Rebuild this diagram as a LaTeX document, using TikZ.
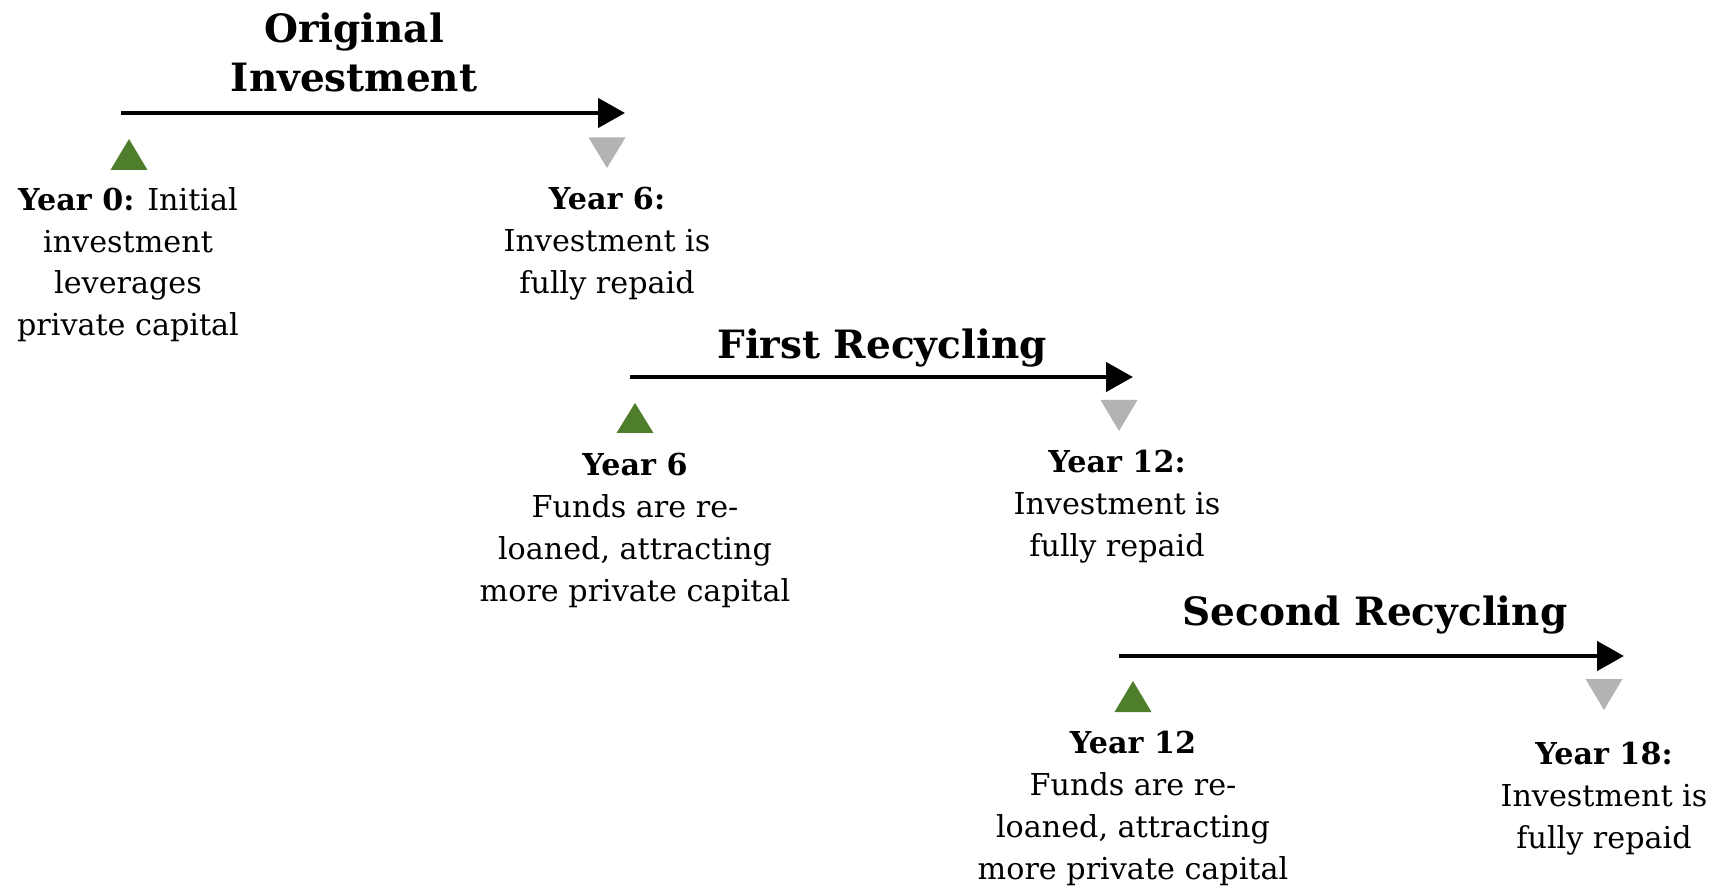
\documentclass[tikz,border=0pt]{standalone}
\usepackage{fontspec}
\setmainfont{DejaVu Serif}
\usetikzlibrary{arrows.meta}
\definecolor{upgreen}{HTML}{4E7D2B}
\definecolor{downgray}{HTML}{B3B3B3}
\tikzset{
  tline/.style={line width=2.3pt,-{Triangle[length=13.5pt,width=14.5pt]}},
  ttitle/.style={anchor=north,inner sep=0pt,align=center,font=\bfseries\fontsize{19.5}{24.75}\selectfont},
  tbody/.style={anchor=north,inner sep=0pt,align=center,font=\fontsize{15.1}{20.9}\selectfont},
  upmark/.style={fill=upgreen},
  downmark/.style={fill=downgray}
}
\begin{document}
\begin{tikzpicture}[x=0.5pt,y=-0.5pt]
\useasboundingbox (0,0) rectangle (1725,887);
% arrows
\coordinate (a1s) at (121,113); \coordinate (a1e) at (625,113);
\coordinate (a2s) at (630,377); \coordinate (a2e) at (1133,377);
\coordinate (a3s) at (1119,656); \coordinate (a3e) at (1624,656);
\draw[tline] (a1s) -- (a1e);
\draw[tline] (a2s) -- (a2e);
\draw[tline] (a3s) -- (a3e);
% titles
\node[ttitle] (t1) at (354,12) {Original\\Investment};
\node[ttitle] (t2) at (882,328) {First Recycling};
\node[ttitle] (t3) at (1375,595) {Second Recycling};
% triangles
\path[upmark] (129,139) -- (147.5,170) -- (110.5,170) -- cycle;
\path[downmark] (607,168) -- (625.5,137.5) -- (588.5,137.5) -- cycle;
\path[upmark] (635,403) -- (653.5,433) -- (616.5,433) -- cycle;
\path[downmark] (1119,431) -- (1137.5,400) -- (1100.5,400) -- cycle;
\path[upmark] (1133,681) -- (1151.5,712) -- (1114.5,712) -- cycle;
\path[downmark] (1604,710) -- (1622.5,679) -- (1585.5,679) -- cycle;
% labels
\node[tbody] (y0) at (128,187) {\textbf{Year 0:} Initial\\investment\\leverages\\private capital};
\node[tbody] (y6a) at (607,187) {\textbf{Year 6:}\\Investment is\\fully repaid};
\node[tbody] (y6b) at (635,453) {\textbf{Year 6}\\Funds are re-\\loaned, attracting\\more private capital};
\node[tbody] (y12a) at (1117,450) {\textbf{Year 12:}\\Investment is\\fully repaid};
\node[tbody] (y12b) at (1133,731) {\textbf{Year 12}\\Funds are re-\\loaned, attracting\\more private capital};
\node[tbody] (y18) at (1604,742) {\textbf{Year 18:}\\Investment is\\fully repaid};
\end{tikzpicture}
\end{document}
